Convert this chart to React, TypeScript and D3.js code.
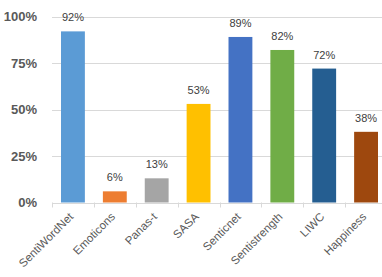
import React from "react";
import * as d3 from "d3";

// chart data
const categories = ["SentiWordNet", "Emoticons", "Panas-t", "SASA", "Senticnet", "Sentistrength", "LIWC", "Happiness"];
const values = [92, 6, 13, 53, 89, 82, 72, 38];
const colors = ["#5b9bd5", "#ed7d31", "#a5a5a5", "#ffc000", "#4472c4", "#70ad47", "#255e91", "#9e480e"];
const yTicks = [0, 25, 50, 75, 100];

const W = 382,
  H = 277;
const margin = { left: 52, top: 16, bottom: 75 };
const plotRight = 387;
const baseY = 202.5;

const xScale = d3.scaleBand<string>().domain(categories).range([margin.left, plotRight]).paddingInner(0.43).paddingOuter(0.215);
const xBands = d3.scaleBand<string>().domain(categories).range([margin.left, plotRight]);
const yScale = d3.scaleLinear().domain([0, 100]).range([baseY, 16.5]);

const font = "'Liberation Sans', Arial, sans-serif";

export default function App() {
  return (
    <svg width={W} height={H} style={{ position: "absolute", left: 0, top: 0, background: "#fff" }}>
      {/* gridlines */}
      {yTicks.map((t) => (
        <line key={"g" + t} x1={margin.left} x2={plotRight} y1={Math.round(yScale(t)) + 0.5} y2={Math.round(yScale(t)) + 0.5} stroke="#d9d9d9" strokeWidth={1} />
      ))}
      {/* category ticks */}
      {categories.map((c) => (
        <line key={"t" + c} x1={Math.round(xBands(c)!) + 0.5} x2={Math.round(xBands(c)!) + 0.5} y1={baseY} y2={baseY + 5} stroke="#d9d9d9" />
      ))}
      {/* y labels */}
      {yTicks.map((t) => (
        <text key={"y" + t} x={37} y={yScale(t)} dy="0.36em" textAnchor="end" fontFamily={font} fontWeight="bold" fontSize={13} fill="#595959">
          {t + "%"}
        </text>
      ))}
      {/* bars */}
      {categories.map((c, i) => (
        <rect key={"b" + c} x={xScale(c)} width={xScale.bandwidth()} y={yScale(values[i])} height={baseY - yScale(values[i])} fill={colors[i]} />
      ))}
      {/* value labels */}
      {categories.map((c, i) => (
        <text key={"v" + c} x={xScale(c)! + xScale.bandwidth() / 2} y={yScale(values[i]) - 10} textAnchor="middle" fontFamily={font} fontSize={11} fill="#404040">
          {values[i] + "%"}
        </text>
      ))}
      {/* category labels */}
      {categories.map((c) => {
        const cx = xBands(c)! + xBands.bandwidth() / 2 + 1;
        return (
          <text key={"c" + c} transform={`translate(${cx},${baseY + 15}) rotate(-45)`} textAnchor="end" fontFamily={font} fontSize={11.5} fill="#595959">
            {c}
          </text>
        );
      })}
    </svg>
  );
}
